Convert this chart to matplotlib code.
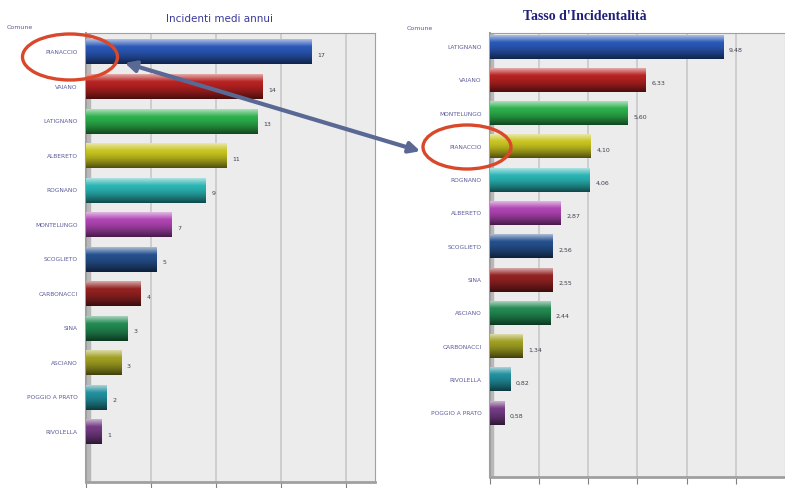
import numpy as np
import matplotlib.pyplot as plt
from matplotlib.patches import Ellipse, FancyArrowPatch
from matplotlib.colors import to_rgb

# left chart: average yearly accidents
left_names = ["PIANACCIO", "VAIANO", "LATIGNANO", "ALBERETO", "ROGNANO", "MONTELUNGO",
              "SCOGLIETO", "CARBONACCI", "SINA", "ASCIANO", "POGGIO A PRATO", "RIVOLELLA"]
left_values = [17.3, 13.6, 13.2, 10.8, 9.2, 6.6, 5.4, 4.2, 3.2, 2.7, 1.6, 1.2]
left_labels = ["17", "14", "13", "11", "9", "7", "5", "4", "3", "3", "2", "1"]

# right chart: accident rate
right_names = ["LATIGNANO", "VAIANO", "MONTELUNGO", "PIANACCIO", "ROGNANO", "ALBERETO",
               "SCOGLIETO", "SINA", "ASCIANO", "CARBONACCI", "RIVOLELLA", "POGGIO A PRATO"]
right_values = [9.48, 6.33, 5.60, 4.10, 4.06, 2.87, 2.56, 2.55, 2.44, 1.34, 0.82, 0.58]

palette = ["#2a58b8", "#b82222", "#2cb04c", "#c8c420", "#2ab4b4", "#b044b4",
           "#25508e", "#942222", "#228a52", "#a0a022", "#22909e", "#743c84"]


def shade_bar(ax, i, v, color, h):
    c = np.array(to_rgb(color))
    t = np.linspace(0, 1, 40)[:, None]
    light = c + (1 - c) * 0.6
    dark = c * 0.4
    # top highlight -> base -> dark bottom (cylinder look)
    rgb = np.where(t < 0.3, light + (c - light) * (t / 0.3),
                   c + (dark - c) * ((t - 0.3) / 0.7) ** 1.5)
    img = np.repeat(rgb[:, None, :], 2, axis=1)
    ax.imshow(img, extent=(0, v, i + h / 2, i - h / 2), aspect="auto",
              interpolation="bilinear", zorder=3)


def draw(ax, names, values, labels, xmax, step, ylim, h):
    ax.set_facecolor("#ececec")
    for i, v in enumerate(values):
        shade_bar(ax, i, v, palette[i], h)
        ax.text(v + xmax * 0.02, i + 0.1, labels[i], fontsize=4.5, color="#404050",
                va="center", ha="left", zorder=4)
    ax.set_xlim(0, xmax)
    ax.set_ylim(*ylim)
    ax.set_yticks(range(len(names)))
    ax.set_yticklabels(names, fontsize=4.2, color="#5a5a9a")
    ax.set_xticks(np.arange(0, xmax, step))
    ax.set_xticklabels([])
    ax.tick_params(axis="y", length=0, pad=6)
    ax.tick_params(axis="x", length=5, color="#808080", direction="out")
    ax.grid(axis="x", color="#c8c8c8", linewidth=1.2, zorder=1)
    ax.axvspan(0, xmax * 0.012, color="#b8b8b8", zorder=2)
    for s in ax.spines.values():
        s.set_color("#a0a0a0")
    ax.spines["left"].set_linewidth(1.5)
    ax.spines["bottom"].set_linewidth(2)


fig = plt.figure(figsize=(7.85, 4.88), dpi=100)

ax1 = fig.add_axes([0.1096, 0.0123, 0.368, 0.92])
draw(ax1, left_names, left_values, left_labels, 22.2, 5, (12.45, -0.55), 0.72)

ax2 = fig.add_axes([0.624, 0.0225, 0.376, 0.91])
draw(ax2, right_names, right_values, [f"{v:.2f}".replace(".", ",") for v in right_values],
     12.0, 2, (12.92, -0.42), 0.7)

fig.text(0.28, 0.962, "Incidenti medi annui", fontsize=7.5, color="#3a3a9a",
         ha="center", va="center")
fig.text(0.745, 0.966, "Tasso d'Incidentalità", fontsize=10, color="#20207a",
         ha="center", va="center", fontweight="bold", family="Liberation Serif")
fig.text(0.008, 0.944, "Comune", fontsize=4.5, color="#5a5a9a", ha="left", va="center")
fig.text(0.518, 0.942, "Comune", fontsize=4.5, color="#5a5a9a", ha="left", va="center")

# highlight ellipses and connecting arrow
for cx, cy, w, hh in [(70, 57, 95, 46), (467, 147, 88, 44)]:
    fig.add_artist(Ellipse((cx / 785, 1 - cy / 488), w / 785, hh / 488,
                           transform=fig.transFigure, fill=False,
                           edgecolor="#d9482a", linewidth=2.4, zorder=10))
fig.add_artist(FancyArrowPatch((122 / 785, 1 - 62 / 488), (423 / 785, 1 - 152 / 488),
                               transform=fig.transFigure, arrowstyle="<|-|>",
                               mutation_scale=16, color="#5a6894", linewidth=3,
                               zorder=11))

fig.savefig("out.png", dpi=100)
